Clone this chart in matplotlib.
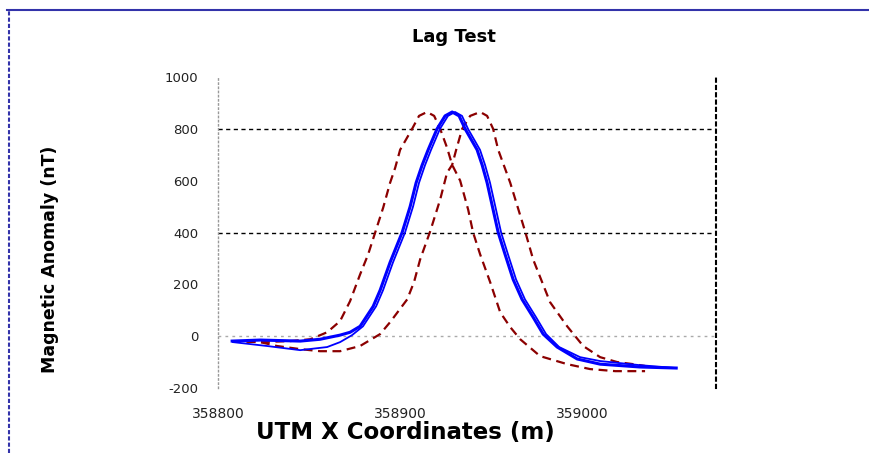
import matplotlib
matplotlib.use("Agg")
import matplotlib.pyplot as plt
from matplotlib.lines import Line2D

# ---- data ----
blue_x = [358807.7, 358823.1, 358845.1, 358856.0, 358867.0, 358872.5, 358878.0, 358885.2,
          358889.0, 358894.5, 358901.1, 358905.5, 358908.8, 358912.1, 358915.4, 358920.3,
          358924.7, 358928.6, 358932.4, 358935.7, 358942.3, 358945.1, 358947.8, 358953.9,
          358957.7, 358962.1, 358967.0, 358973.1, 358978.6, 358986.3, 358997.3, 359009.9,
          359031.9, 359051.7]
blue_y = [-19, -15, -19, -12, 4, 15, 38, 115, 177, 285, 400, 500, 592, 660, 719, 800,
          850, 865, 850, 800, 719, 660, 592, 400, 315, 219, 142, 73, 8, -42, -88, -108,
          -119, -123]

blue2_x = [358808.2, 358826.9, 358845.1, 358859.9, 358867.0, 358873.6, 358879.6, 358886.8,
           358890.6, 358896.1, 358902.7, 358907.1, 358910.4, 358913.7, 358917.0, 358921.9,
           358926.3, 358930.2, 358934.0, 358937.3, 358943.9, 358946.7, 358949.4, 358955.5,
           358959.3, 358963.7, 358968.6, 358974.7, 358980.2, 358987.4, 358998.9, 359009.9,
           359031.9, 359051.7]
blue2_y = [-23, -38, -54, -42, -23, 4, 38, 115, 177, 285, 400, 500, 592, 660, 719, 800,
           850, 865, 850, 800, 719, 660, 592, 400, 315, 219, 142, 73, 8, -42, -81, -96,
           -112, -123]

redL_x = [358807.7, 358823.1, 358839.6, 358850.6, 358859.9, 358867.0, 358872.5, 358878.0,
          358882.4, 358886.3, 358890.7, 358894.5, 358897.3, 358900.0, 358906.6, 358910.4,
          358914.8, 358918.7, 358922.0, 358925.8, 358928.6, 358933.0, 358937.4, 358940.1,
          358944.0, 358949.5, 358955.0, 358960.5, 358966.0, 358976.9, 358991.8, 359004.4,
          359018.2, 359034.6]
redL_y = [-19, -23, -19, -12, 15, 58, 135, 238, 315, 400, 496, 592, 650, 719, 800, 850,
          865, 850, 800, 727, 661, 600, 488, 400, 315, 208, 92, 35, -12, -77, -108, -127,
          -135, -135]

redR_x = [358807.7, 358823.1, 358832.4, 358845.1, 358856.0, 358867.0, 358878.0, 358889.0,
          358894.5, 358903.9, 358907.7, 358911.0, 358916.5, 358922.0, 358925.8, 358928.6,
          358930.8, 358934.1, 358938.5, 358944.0, 358947.8, 358951.1, 358953.9, 358960.5,
          358968.7, 358973.1, 358982.4, 358991.8, 359000.6, 359009.9, 359019.3, 359028.1,
          359034.6]
redR_y = [-19, -23, -38, -50, -58, -58, -38, 8, 54, 142, 210, 296, 404, 527, 631, 661,
          719, 800, 850, 865, 850, 800, 719, 592, 404, 296, 131, 38, -38, -81, -100, -108,
          -115]

x_ticks = [358800, 358900, 359000]
y_ticks = [-200, 0, 200, 400, 600, 800, 1000]

# ---- figure ----
fig = plt.figure(figsize=(8.69, 4.53), dpi=100)
ax = fig.add_axes([0.251, 0.1435, 0.573, 0.6865])

ax.set_xlim(358800, 359073.6)
ax.set_ylim(-200, 1000)

# grid lines
for gy in (800, 400):
    ax.axhline(gy, color="black", lw=1.0, ls=(0, (3, 2.5)), zorder=1)
ax.axhline(0, color="#aaaaaa", lw=1.0, ls=(0, (2, 3)), zorder=1)

ax.plot(redL_x, redL_y, color="#8b0000", lw=1.6, ls=(0, (4, 2.5)), zorder=3)
ax.plot(redR_x, redR_y, color="#8b0000", lw=1.6, ls=(0, (4, 2.5)), zorder=3)
ax.plot(blue2_x, blue2_y, color="#0000ff", lw=1.3, zorder=4)
ax.plot(blue_x, blue_y, color="#0000ff", lw=2.2, zorder=5)

for s in ("top", "bottom"):
    ax.spines[s].set_visible(False)
ax.spines["left"].set_color("#999999")
ax.spines["left"].set_linestyle((0, (1, 2)))
ax.spines["left"].set_linewidth(1.0)
ax.spines["right"].set_color("black")
ax.spines["right"].set_linestyle((0, (1.5, 2)))
ax.spines["right"].set_linewidth(1.5)

ax.set_xticks(x_ticks)
ax.set_xticklabels([str(v) for v in x_ticks])
ax.set_yticks(y_ticks)
ax.set_yticklabels([str(v) for v in y_ticks])
ax.tick_params(axis="both", length=0, colors="#222222")
ax.tick_params(axis="x", pad=14, labelsize=10)
ax.tick_params(axis="y", pad=14, labelsize=9.5)

fig.text(0.522, 0.918, "Lag Test", ha="center", va="center", fontsize=13, fontweight="bold")
fig.text(0.057, 0.428, "Magnetic Anomaly (nT)", ha="center", va="center",
         rotation=90, fontsize=12.5, fontweight="bold")
fig.text(0.466, 0.046, "UTM X Coordinates (m)", ha="center", va="center",
         fontsize=16.5, fontweight="bold")

# blue frame on top and left
fig.add_artist(Line2D([0.008, 1.0], [0.978, 0.978], transform=fig.transFigure,
                      color="#3333aa", lw=1.5))
fig.add_artist(Line2D([0.01, 0.01], [0.0, 0.978], transform=fig.transFigure,
                      color="#3333aa", lw=1.5, ls=(0, (2, 1))))

fig.savefig("out.png", dpi=100)
